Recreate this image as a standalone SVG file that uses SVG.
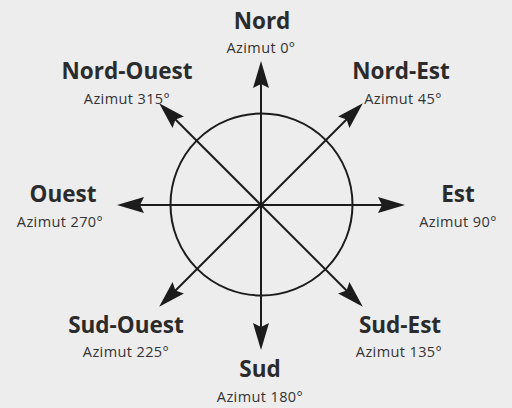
<svg xmlns="http://www.w3.org/2000/svg" width="512" height="408" viewBox="0 0 512 408">
<style>
.bg{fill:#ededee}
.ln{stroke:#1c1c1c;stroke-width:2;fill:none}
.t{font-family:"Open Sans","Liberation Sans",sans-serif;font-weight:bold;font-size:22.5px;fill:#2b2b2b;text-anchor:middle}
.s{font-family:"Open Sans","Liberation Sans",sans-serif;font-size:14.5px;letter-spacing:0.4px;fill:#333;text-anchor:middle}
</style>
<defs>
<marker id="ah" markerUnits="userSpaceOnUse" markerWidth="40" markerHeight="20" refX="0" refY="0" orient="auto" overflow="visible">
<path d="M21,0 L-6,-8 L-2,0 L-6,8 Z" fill="#1c1c1c"/>
</marker>
</defs>
<rect class="bg" x="0" y="0" width="512" height="408"/>
<g id="connectors">
<circle class="ln" cx="261.5" cy="204.5" r="91"/>
<line class="ln" x1="261" y1="205" x2="261" y2="82" marker-end="url(#ah)"/>
<line class="ln" x1="261" y1="205" x2="384" y2="205" marker-end="url(#ah)"/>
<line class="ln" x1="261" y1="205" x2="261" y2="329" marker-end="url(#ah)"/>
<line class="ln" x1="261" y1="205" x2="138" y2="205" marker-end="url(#ah)"/>
<line class="ln" x1="261" y1="205" x2="348" y2="118" marker-end="url(#ah)"/>
<line class="ln" x1="261" y1="205" x2="348" y2="292" marker-end="url(#ah)"/>
<line class="ln" x1="261" y1="205" x2="174" y2="292" marker-end="url(#ah)"/>
<line class="ln" x1="261" y1="205" x2="174" y2="118" marker-end="url(#ah)"/>
</g>
<g id="nord"><text class="t" x="262" y="29">Nord</text><text class="s" x="261" y="53">Azimut 0°</text></g>
<g id="nord-est"><text class="t" x="401" y="79">Nord-Est</text><text class="s" x="403" y="104">Azimut 45°</text></g>
<g id="est"><text class="t" x="458" y="202">Est</text><text class="s" x="458" y="227">Azimut 90°</text></g>
<g id="sud-est"><text class="t" x="400" y="333">Sud-Est</text><text class="s" x="399" y="357">Azimut 135°</text></g>
<g id="sud"><text class="t" x="260" y="377">Sud</text><text class="s" x="260" y="402">Azimut 180°</text></g>
<g id="sud-ouest"><text class="t" x="126" y="333">Sud-Ouest</text><text class="s" x="126" y="357">Azimut 225°</text></g>
<g id="ouest"><text class="t" x="63" y="202">Ouest</text><text class="s" x="60" y="227">Azimut 270°</text></g>
<g id="nord-ouest"><text class="t" x="127" y="79">Nord-Ouest</text><text class="s" x="127" y="104">Azimut 315°</text></g>
</svg>
